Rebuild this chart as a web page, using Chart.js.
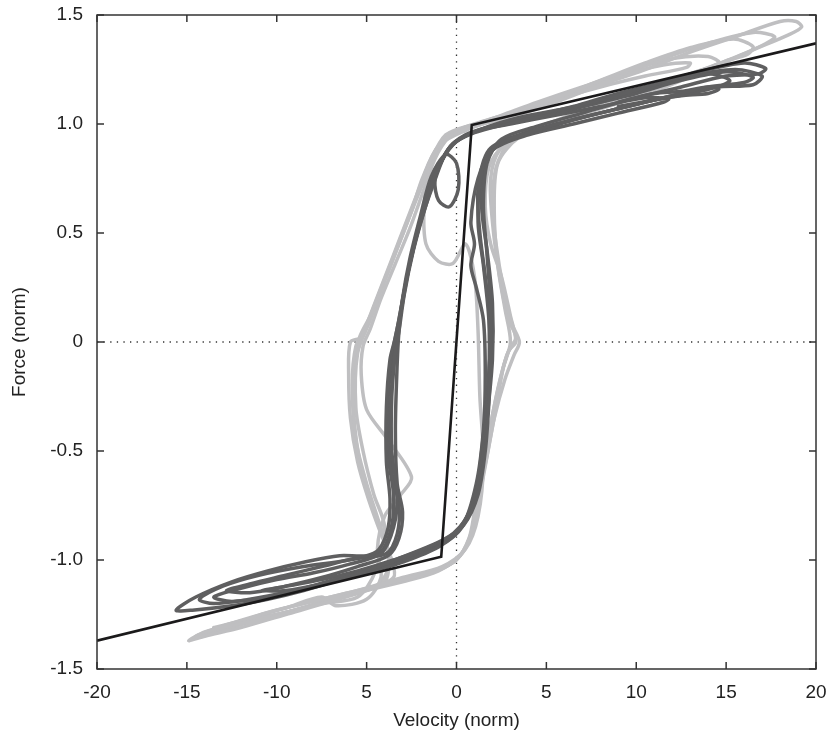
<!DOCTYPE html>
<html>
<head>
<meta charset="utf-8">
<script src="https://cdn.jsdelivr.net/npm/chart.js@4.4.1/dist/chart.umd.min.js"></script>
<style>
  html, body { margin: 0; padding: 0; background: #fff; }
  #wrap { width: 828px; height: 738px; }
</style>
</head>
<body>
<div id="wrap"><canvas id="myChart" width="828" height="738"></canvas></div>
<script>
// axis ticks
let xTickLabels = ['-20', '-15', '-10', '5', '0', '5', '10', '15', '20'];
let yTickLabels = ['-1.5', '-1.0', '-0.5', '0', '0.5', '1.0', '1.5'];

// piecewise linear model (velocity, force)
let modelX = [-20, -0.85, 0.85, 20];
let modelY = [-1.37, -0.985, 0.995, 1.37];

// measured loops, light grey runs
let light1X = [8.0, 5.5, 3.0, 1.0, -0.5, -1.3, -2.0, -2.8, -3.5, -4.3, -5.0, -5.3, -5.9, -6.0, -5.9, -5.5, -4.9, -4.2, -3.6, -3.5, -5.0, -7.5, -10.0, -12.5, -14.0, -14.9, -14.0, -12.0, -9.5, -7.0, -4.5, -2.5, -0.8, 0.2, 0.8, 1.2, 1.7, 2.1, 2.7, 3.2, 3.5, 3.1, 2.6, 2.2, 2.0, 2.2, 3.0, 5.0, 8.0, 11.0, 14.0, 16.5, 18.5, 19.2, 18.9, 18.0, 15.5, 13.0, 10.5, 8.0];
let light1Y = [1.18, 1.10, 1.03, 0.99, 0.94, 0.86, 0.72, 0.55, 0.40, 0.23, 0.08, 0.02, 0.00, -0.15, -0.35, -0.55, -0.72, -0.88, -1.00, -1.08, -1.14, -1.20, -1.26, -1.30, -1.33, -1.37, -1.35, -1.31, -1.25, -1.19, -1.12, -1.08, -1.04, -0.98, -0.88, -0.72, -0.52, -0.35, -0.17, -0.06, 0.00, 0.08, 0.25, 0.45, 0.62, 0.80, 0.92, 1.00, 1.07, 1.15, 1.25, 1.34, 1.41, 1.445, 1.47, 1.47, 1.40, 1.33, 1.25, 1.18];

let light2X = [8.0, 5.5, 3.0, 1.0, -0.6, -1.5, -2.3, -3.0, -3.8, -4.6, -5.1, -5.6, -5.8, -5.6, -5.0, -4.3, -3.8, -4.0, -6.0, -8.5, -11.0, -13.5, -14.5, -12.5, -10.0, -7.5, -5.0, -3.0, -1.2, 0.0, 0.7, 1.0, 1.4, 1.8, 2.3, 2.8, 3.3, 2.9, 2.4, 2.0, 1.9, 2.4, 4.0, 7.0, 10.0, 13.0, 15.0, 16.2, 16.5, 15.4, 13.0, 10.5, 8.0];
let light2Y = [1.20, 1.12, 1.05, 1.00, 0.95, 0.82, 0.65, 0.50, 0.33, 0.16, 0.05, -0.02, -0.20, -0.45, -0.65, -0.83, -0.98, -1.10, -1.16, -1.22, -1.27, -1.33, -1.35, -1.29, -1.23, -1.18, -1.13, -1.09, -1.05, -1.00, -0.90, -0.78, -0.60, -0.42, -0.22, -0.06, 0.02, 0.10, 0.30, 0.55, 0.75, 0.88, 0.97, 1.05, 1.13, 1.22, 1.29, 1.32, 1.355, 1.39, 1.35, 1.28, 1.20];

let light3X = [6.5, 4.0, 2.0, 0.3, -0.8, -1.5, -1.8, -1.7, -1.0, -0.2, 0.5, 1.0, 1.2, 1.3, 1.5, 1.2, 0.5, -0.8, -3.0, -5.5, -8.0, -10.5, -11.5, -10.0, -7.5, -5.5, -4.5, -4.0, -4.6, -5.2, -5.6, -5.5, -4.8, -4.0, -3.2, -2.5, -1.9, -1.0, 0.5, 2.5, 5.0, 8.0, 10.5, 12.8, 13.0, 11.5, 9.0, 6.5];
let light3Y = [1.15, 1.08, 1.02, 0.98, 0.92, 0.80, 0.62, 0.45, 0.37, 0.36, 0.45, 0.30, 0.05, -0.25, -0.55, -0.80, -0.95, -1.03, -1.08, -1.14, -1.19, -1.24, -1.27, -1.25, -1.20, -1.17, -1.05, -0.85, -0.70, -0.50, -0.30, -0.05, 0.10, 0.28, 0.45, 0.60, 0.75, 0.90, 0.97, 1.03, 1.10, 1.17, 1.22, 1.26, 1.28, 1.27, 1.22, 1.15];

let light4X = [7.0, 4.5, 2.5, 0.8, -0.4, -1.2, -1.9, -2.6, -3.4, -4.2, -4.8, -5.2, -5.3, -5.0, -3.8, -2.5, -3.1, -4.0, -4.4, -4.2, -5.0, -6.7, -7.5, -9.5, -12.0, -13.5, -11.0, -8.5, -6.0, -3.5, -1.5, -0.2, 0.6, 1.1, 1.5, 1.9, 2.4, 2.9, 3.3, 3.0, 2.5, 1.9, 1.6, 1.8, 2.6, 4.5, 7.5, 10.5, 13.0, 14.6, 14.0, 12.0, 9.5, 7.0];
let light4Y = [1.17, 1.10, 1.04, 0.99, 0.94, 0.84, 0.68, 0.52, 0.36, 0.20, 0.06, -0.02, -0.15, -0.31, -0.45, -0.62, -0.70, -0.80, -0.95, -1.08, -1.18, -1.21, -1.17, -1.22, -1.28, -1.31, -1.27, -1.22, -1.16, -1.10, -1.06, -1.01, -0.93, -0.78, -0.58, -0.38, -0.18, -0.04, 0.00, 0.12, 0.30, 0.45, 0.62, 0.80, 0.90, 0.98, 1.06, 1.14, 1.23, 1.28, 1.31, 1.30, 1.24, 1.17];

let light5X = [9.0, 6.5, 4.0, 2.0, 0.5, -0.7, -1.6, -2.4, -3.2, -4.0, -4.8, -5.4, -5.7, -5.7, -5.3, -4.7, -4.0, -3.7, -4.5, -7.0, -9.5, -12.0, -14.2, -13.0, -10.5, -8.0, -5.5, -3.0, -1.0, 0.3, 0.9, 1.3, 1.8, 2.2, 2.6, 3.0, 2.7, 2.3, 2.1, 2.3, 3.5, 6.0, 9.0, 12.0, 15.0, 17.0, 17.7, 16.5, 14.0, 11.5, 9.0];
let light5Y = [1.22, 1.14, 1.07, 1.02, 0.98, 0.93, 0.78, 0.62, 0.45, 0.28, 0.12, 0.02, -0.10, -0.35, -0.58, -0.75, -0.90, -1.02, -1.12, -1.18, -1.24, -1.29, -1.34, -1.32, -1.26, -1.21, -1.15, -1.10, -1.05, -0.97, -0.86, -0.70, -0.48, -0.30, -0.12, 0.00, 0.15, 0.35, 0.60, 0.82, 0.94, 1.03, 1.11, 1.20, 1.29, 1.36, 1.40, 1.42, 1.37, 1.30, 1.22];

// measured loops, dark grey runs
let dark1X = [8.5, 6.0, 3.5, 1.5, 0.0, -0.9, -1.6, -2.2, -2.7, -3.1, -3.4, -3.7, -3.9, -3.9, -3.7, -3.8, -4.3, -5.0, -6.5, -8.5, -10.5, -12.5, -14.5, -15.6, -14.7, -12.5, -10.5, -8.5, -6.5, -4.4, -2.5, -0.8, 0.4, 1.2, 1.6, 1.8, 1.9, 1.9, 1.7, 1.5, 1.7, 2.5, 4.5, 7.0, 9.5, 12.5, 15.0, 16.8, 17.2, 16.0, 13.5, 11.0, 8.5];
let dark1Y = [1.12, 1.07, 1.03, 0.98, 0.92, 0.82, 0.68, 0.50, 0.32, 0.15, 0.02, -0.08, -0.30, -0.55, -0.72, -0.85, -0.95, -0.98, -0.98, -1.01, -1.05, -1.10, -1.17, -1.23, -1.23, -1.21, -1.18, -1.14, -1.09, -1.03, -0.97, -0.91, -0.84, -0.70, -0.50, -0.28, -0.05, 0.15, 0.40, 0.62, 0.82, 0.93, 0.99, 1.05, 1.11, 1.17, 1.22, 1.23, 1.255, 1.28, 1.24, 1.18, 1.12];

let dark2X = [7.5, 5.0, 2.8, 1.0, -0.3, -1.1, -1.8, -2.4, -2.9, -3.2, -3.4, -3.6, -3.6, -3.3, -3.5, -4.2, -6.0, -8.0, -10.0, -12.0, -13.5, -12.5, -10.5, -8.5, -6.0, -4.0, -2.0, -0.5, 0.6, 1.3, 1.6, 1.8, 1.8, 1.5, 1.2, 1.4, 2.2, 4.0, 6.5, 9.0, 11.5, 14.0, 16.0, 16.5, 15.0, 12.5, 10.0, 7.5];
let dark2Y = [1.09, 1.04, 1.00, 0.96, 0.90, 0.78, 0.60, 0.42, 0.22, 0.05, -0.05, -0.25, -0.50, -0.70, -0.85, -0.97, -1.02, -1.06, -1.09, -1.13, -1.17, -1.19, -1.17, -1.13, -1.07, -1.02, -0.96, -0.90, -0.80, -0.62, -0.40, -0.15, 0.10, 0.35, 0.55, 0.78, 0.90, 0.96, 1.02, 1.07, 1.12, 1.17, 1.19, 1.215, 1.24, 1.20, 1.14, 1.09];

let dark3X = [6.5, 4.0, 2.0, 0.5, -0.5, -1.3, -2.0, -2.6, -3.0, -3.3, -3.5, -3.7, -3.6, -3.2, -3.3, -3.9, -5.5, -7.5, -9.5, -11.5, -12.8, -11.5, -9.5, -7.5, -5.5, -3.5, -1.5, 0.0, 1.0, 1.4, 1.7, 1.9, 1.6, 1.3, 1.2, 1.8, 3.5, 6.0, 8.5, 11.0, 13.0, 14.5, 15.2, 14.0, 11.5, 9.0, 6.5];
let dark3Y = [1.08, 1.03, 0.99, 0.95, 0.88, 0.72, 0.55, 0.36, 0.18, 0.03, -0.10, -0.35, -0.60, -0.75, -0.88, -0.97, -0.99, -1.03, -1.07, -1.11, -1.14, -1.15, -1.12, -1.09, -1.05, -1.00, -0.94, -0.87, -0.72, -0.50, -0.25, 0.05, 0.30, 0.50, 0.70, 0.88, 0.95, 1.01, 1.06, 1.11, 1.14, 1.17, 1.20, 1.23, 1.19, 1.14, 1.08];

let dark4X = [5.5, 3.0, 1.2, 0.0, -0.8, -1.2, -1.0, -0.4, 0.1, 0.0, -0.6, -1.4, -2.0, -2.6, -3.0, -3.2, -3.3, -3.4, -3.3, -3.0, -3.2, -3.8, -5.5, -7.5, -9.5, -10.8, -9.5, -7.5, -5.0, -3.0, -1.0, 0.3, 1.1, 1.5, 1.6, 1.5, 1.1, 0.8, 1.0, 0.8, 1.2, 2.0, 4.0, 6.5, 9.0, 11.5, 11.8, 10.5, 8.0, 5.5];
let dark4Y = [1.04, 1.00, 0.97, 0.92, 0.84, 0.74, 0.65, 0.62, 0.70, 0.82, 0.86, 0.76, 0.58, 0.38, 0.20, 0.05, -0.10, -0.40, -0.65, -0.78, -0.90, -0.98, -1.03, -1.08, -1.12, -1.14, -1.14, -1.11, -1.06, -1.01, -0.94, -0.85, -0.65, -0.40, -0.15, 0.10, 0.25, 0.35, 0.45, 0.55, 0.75, 0.88, 0.95, 1.00, 1.05, 1.10, 1.115, 1.12, 1.08, 1.04];

let dark5X = [8.0, 5.5, 3.0, 1.2, -0.2, -1.0, -1.7, -2.3, -2.8, -3.2, -3.5, -3.8, -3.8, -3.5, -3.6, -4.2, -6.0, -8.5, -11.0, -13.0, -14.3, -13.5, -11.5, -9.0, -6.5, -4.0, -2.0, -0.3, 0.8, 1.4, 1.7, 2.0, 2.0, 1.7, 1.4, 1.6, 2.5, 4.5, 7.0, 9.5, 12.0, 14.5, 16.5, 17.0, 15.5, 13.0, 10.5, 8.0];
let dark5Y = [1.10, 1.05, 1.01, 0.97, 0.91, 0.80, 0.64, 0.46, 0.28, 0.10, -0.02, -0.25, -0.52, -0.70, -0.84, -0.96, -1.00, -1.03, -1.07, -1.12, -1.18, -1.20, -1.18, -1.14, -1.09, -1.03, -0.97, -0.90, -0.78, -0.58, -0.35, -0.08, 0.18, 0.42, 0.62, 0.82, 0.92, 0.97, 1.03, 1.08, 1.13, 1.17, 1.18, 1.22, 1.25, 1.22, 1.16, 1.10];

// short dark swing near the upper right
let dark6X = [9.0, 11.0, 12.5, 14.0, 14.6, 14.0, 12.5, 11.0, 9.0];
let dark6Y = [1.10, 1.14, 1.15, 1.17, 1.16, 1.14, 1.13, 1.11, 1.08];

function pts(xs, ys) {
  return xs.map((x, i) => ({ x: x, y: ys[i] }));
}

const LIGHT = '#bfbfc1';
const DARK = '#5f5f60';

function loop(xs, ys, color) {
  return {
    data: pts(xs, ys),
    showLine: true,
    borderColor: color,
    borderWidth: 3.5,
    pointRadius: 0,
    tension: 0.3,
    borderJoinStyle: 'round',
    borderCapStyle: 'round'
  };
}

// dotted zero lines under the data, box and inward ticks over it
const frame = {
  id: 'frame',
  beforeDatasetsDraw(chart) {
    const { ctx, chartArea: a, scales: { x, y } } = chart;
    const x0 = x.getPixelForValue(0), y0 = y.getPixelForValue(0);
    ctx.save();
    ctx.strokeStyle = '#333';
    ctx.lineWidth = 1.3;
    ctx.setLineDash([1.3, 5.3]);
    ctx.beginPath();
    ctx.moveTo(a.left, y0); ctx.lineTo(a.right, y0);
    ctx.moveTo(x0, a.top); ctx.lineTo(x0, a.bottom);
    ctx.stroke();
    ctx.restore();
  },
  afterDatasetsDraw(chart) {
    const { ctx, chartArea: a, scales: { x, y } } = chart;
    const len = 7;
    ctx.save();
    ctx.strokeStyle = '#333';
    ctx.lineWidth = 1.5;
    ctx.strokeRect(a.left, a.top, a.right - a.left, a.bottom - a.top);
    ctx.beginPath();
    x.ticks.forEach(t => {
      const px = x.getPixelForValue(t.value);
      ctx.moveTo(px, a.bottom); ctx.lineTo(px, a.bottom - len);
      ctx.moveTo(px, a.top); ctx.lineTo(px, a.top + len);
    });
    y.ticks.forEach(t => {
      const py = y.getPixelForValue(t.value);
      ctx.moveTo(a.left, py); ctx.lineTo(a.left + len, py);
      ctx.moveTo(a.right, py); ctx.lineTo(a.right - len, py);
    });
    ctx.stroke();
    ctx.restore();
  }
};

const font = { family: '"Liberation Sans", Arial, sans-serif', size: 19 };

let ctx = document.getElementById('myChart').getContext('2d');

let chart = new Chart(ctx, {
  type: 'scatter',
  data: {
    datasets: [
      {
        data: pts(modelX, modelY),
        showLine: true,
        borderColor: '#1b1a1b',
        borderWidth: 2.6,
        pointRadius: 0,
        tension: 0
      },
      loop(dark1X, dark1Y, DARK),
      loop(dark2X, dark2Y, DARK),
      loop(dark3X, dark3Y, DARK),
      loop(dark4X, dark4Y, DARK),
      loop(dark5X, dark5Y, DARK),
      loop(dark6X, dark6Y, DARK),
      loop(light1X, light1Y, LIGHT),
      loop(light2X, light2Y, LIGHT),
      loop(light3X, light3Y, LIGHT),
      loop(light4X, light4Y, LIGHT),
      loop(light5X, light5Y, LIGHT)
    ]
  },
  options: {
    responsive: false,
    animation: false,
    layout: { padding: { top: 15, right: 12, left: 0, bottom: 0 } },
    plugins: { legend: { display: false }, tooltip: { enabled: false } },
    scales: {
      x: {
        type: 'linear',
        min: -20,
        max: 20,
        grid: { display: false, drawTicks: false },
        border: { display: false },
        ticks: {
          stepSize: 5,
          padding: 12,
          color: '#222',
          font: font,
          maxRotation: 0,
          callback: (v, i) => xTickLabels[i]
        },
        title: { display: true, text: 'Velocity (norm)', color: '#222', font: font, padding: { top: 6, bottom: 6 } },
        afterFit: s => { s.height = 738 - 669; s.paddingLeft = 0; s.paddingRight = 0; }
      },
      y: {
        type: 'linear',
        min: -1.5,
        max: 1.5,
        grid: { display: false, drawTicks: false },
        border: { display: false },
        ticks: {
          stepSize: 0.5,
          padding: 14,
          color: '#222',
          font: font,
          callback: (v, i) => yTickLabels[i]
        },
        title: { display: true, text: 'Force (norm)', color: '#222', font: font, padding: { top: 8, bottom: 4 } },
        afterFit: s => { s.width = 97; s.paddingTop = 0; s.paddingBottom = 0; }
      }
    }
  },
  plugins: [frame]
});
</script>
</body>
</html>
